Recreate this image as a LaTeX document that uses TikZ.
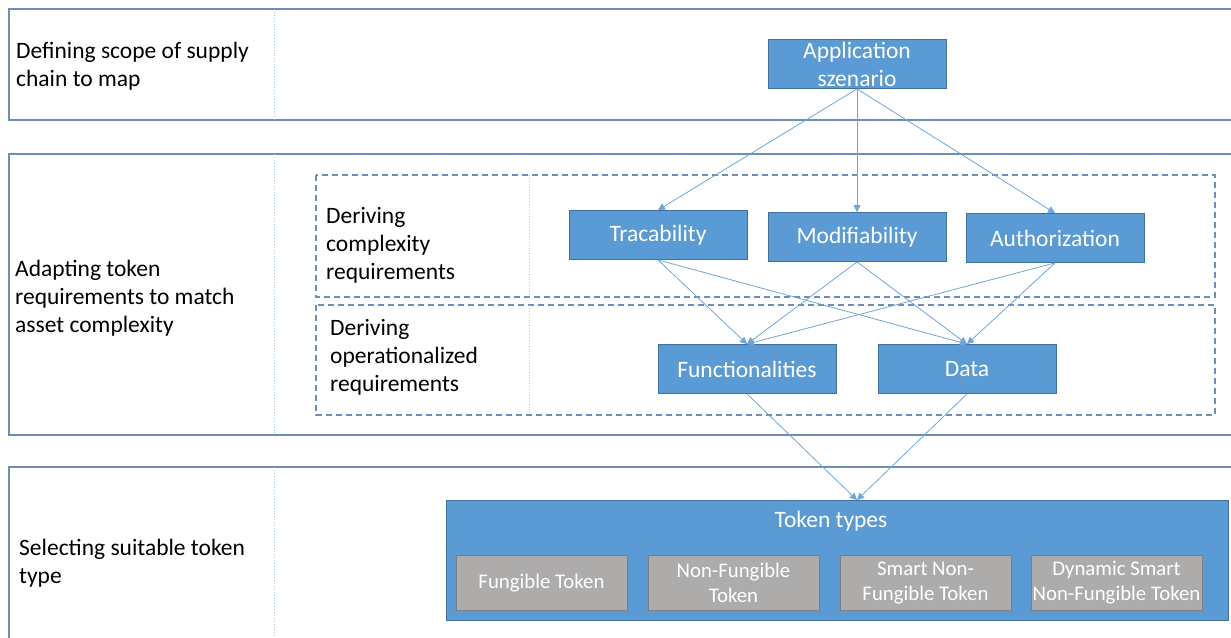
\documentclass[tikz,border=0pt]{standalone}
\usepackage{fontspec}
\setmainfont{Carlito}
\usetikzlibrary{arrows.meta}
\definecolor{boxblue}{HTML}{5B9BD5}
\definecolor{boxedge}{HTML}{41719C}
\definecolor{laneblue}{HTML}{6C8EB8}
\definecolor{divblue}{HTML}{9DC3E6}
\definecolor{arrowblue}{HTML}{6FA6DA}
\definecolor{tokgray}{HTML}{AEABAB}
\definecolor{grayedge}{HTML}{7F7F7F}
\tikzset{
  lane/.style={draw=laneblue, line width=1.6pt},
  divider/.style={draw=divblue, dotted, line width=0.9pt},
  stage/.style={draw=laneblue, dashed, dash pattern=on 6pt off 4pt, line width=1.3pt},
  box/.style={draw=boxedge, fill=boxblue, text=white, line width=0.8pt,
    minimum width=178pt, minimum height=49pt, inner sep=0pt, align=center,
    font=\fontsize{23.5}{28}\selectfont},
  tok/.style={draw=grayedge, fill=tokgray, text=white, line width=0.8pt,
    minimum width=171pt, minimum height=55pt, inner sep=0pt, align=center,
    font=\fontsize{20.8}{25}\selectfont},
  link/.style={draw=arrowblue, line width=0.8pt, -{Triangle[width=7pt,length=7pt]}},
  lanelabel/.style={anchor=west, align=left, inner sep=0pt,
    font=\fontsize{23.5}{28}\selectfont}
}
\begin{document}
\begin{tikzpicture}[x=1pt, y=-1pt]
\useasboundingbox (0,0) rectangle (1231,637);
\clip (0,0) rectangle (1231,637);

% swim lanes
\draw[lane] (1240,9) -- (9,9) -- (9,120) -- (1240,120);
\draw[lane] (1240,154) -- (9,154) -- (9,435) -- (1240,435);
\draw[lane] (1240,467) -- (9,467) -- (9,650);
\draw[divider] (274,9) -- (274,120);
\draw[divider] (274,154) -- (274,435);
\draw[divider] (274,467) -- (274,650);

% lane labels
\node[lanelabel] (l1) at (16,66) {Defining scope of supply\\chain to map};
\node[lanelabel] (l2) at (15,298) {Adapting token\\requirements to match\\asset complexity};
\node[lanelabel] (l3) at (19,563) {Selecting suitable token\\type};

% sub-stages
\draw[stage] (316,175) rectangle (1215,297);
\draw[stage] (316,305) rectangle (1215,415);
\draw[divider] (529,175) -- (529,297);
\draw[divider] (529,305) -- (529,415);
\node[lanelabel] (s1) at (326,245) {Deriving\\complexity\\requirements};
\node[lanelabel] (s2) at (330,357) {Deriving\\operationalized\\requirements};

% requirement boxes
\node[box] (app) at (857,64) {Application\\szenario};
\node[box] (trac) at (658,235) {Tracability};
\node[box] (modi) at (857,237) {Modifiability};
\node[box] (auth) at (1055,238) {Authorization};
\node[box] (func) at (747,369) {Functionalities};
\node[box] (data) at (967,369) {Data};

% token types
\node[draw=boxedge, fill=boxblue, line width=0.8pt, minimum width=782pt,
  minimum height=120pt, inner sep=0pt] (tokens) at (837,560) {};
\node[text=white, font=\fontsize{23.5}{28}\selectfont, inner sep=0pt] (toklabel) at (831,521) {Token types};
\node[tok] (t1) at (541.5,583) {Fungible Token};
\node[tok] (t2) at (733.5,583) {Non-Fungible\\Token};
\node[tok] (t3) at (925.5,583) {Smart Non-\\Fungible Token};
\node[tok] (t4) at (1116.5,583) {Dynamic Smart\\Non-Fungible Token};
\coordinate (tokin) at (857,500);

% connectors
\draw[link] (app.south) -- (trac.north);
\draw[link] (app.south) -- (modi.north);
\draw[link] (app.south) -- (auth.north);
\foreach \s in {trac,modi,auth}{
  \draw[link] (\s.south) -- (func.north);
  \draw[link] (\s.south) -- (data.north);
}
\draw[link] (func.south) -- (tokin);
\draw[link] (data.south) -- (tokin);
\end{tikzpicture}
\end{document}
